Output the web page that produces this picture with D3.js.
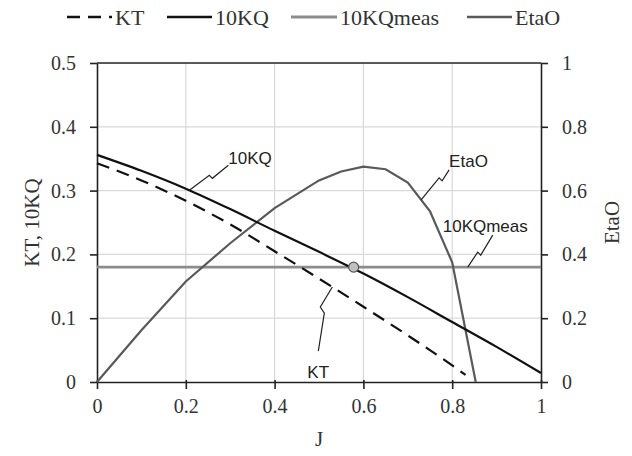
<!DOCTYPE html>
<html>
<head>
<meta charset="utf-8">
<script src="https://cdn.jsdelivr.net/npm/d3@7"></script>
<style>
    body { margin: 0; background: #fff; }
    svg { display: block; }
</style>
</head>
<body>
<svg id="chart" width="632" height="456"></svg>
<script>
// values
const jKT   = [0, 0.1, 0.2, 0.3, 0.4, 0.5, 0.6, 0.7, 0.8, 0.83]
const kt    = [0.343, 0.316, 0.284, 0.247, 0.205, 0.162, 0.118, 0.073, 0.026, 0.011]
const jKQ   = [0, 0.1, 0.2, 0.3, 0.4, 0.5, 0.6, 0.7, 0.8, 0.9, 1.0]
const kq10  = [0.356, 0.331, 0.303, 0.271, 0.237, 0.204, 0.17, 0.133, 0.094, 0.055, 0.014]
const kqMeas = 0.18
const jEta  = [0, 0.1, 0.2, 0.3, 0.4, 0.5, 0.55, 0.6, 0.65, 0.7, 0.75, 0.8, 0.853]
const eta   = [0, 0.162, 0.315, 0.435, 0.545, 0.632, 0.66, 0.675, 0.667, 0.625, 0.535, 0.375, 0]
const jMeas = 0.578

const xTicks  = [0, 0.2, 0.4, 0.6, 0.8, 1]
const yTicks  = [0, 0.1, 0.2, 0.3, 0.4, 0.5]
const y2Ticks = [0, 0.2, 0.4, 0.6, 0.8, 1]

const serif = '"Liberation Serif", "Times New Roman", serif'
const sans  = '"Liberation Sans", Arial, sans-serif'

const margin = { left: 97, right: 91, top: 63, bottom: 74 }
const width  = 632 - margin.left - margin.right
const height = 456 - margin.top - margin.bottom

const svg = d3.select('#chart')
const g = svg.append('g').attr('transform', `translate(${margin.left},${margin.top})`)

const x  = d3.scaleLinear().domain([0, 1]).range([0, width])
const y  = d3.scaleLinear().domain([0, 0.5]).range([height, 0])
const y2 = d3.scaleLinear().domain([0, 1]).range([height, 0])

// grid
g.selectAll('.vgrid').data(xTicks.slice(1, -1)).enter()
    .append('line')
    .attr('x1', d => x(d)).attr('x2', d => x(d))
    .attr('y1', 0).attr('y2', height)
    .attr('stroke', '#d9d9d9').attr('stroke-width', 1.2)
g.selectAll('.hgrid').data(yTicks.slice(1, -1)).enter()
    .append('line')
    .attr('x1', 0).attr('x2', width)
    .attr('y1', d => y(d)).attr('y2', d => y(d))
    .attr('stroke', '#d9d9d9').attr('stroke-width', 1.2)

// top border
g.append('line').attr('x1', 0).attr('x2', width).attr('y1', 0).attr('y2', 0)
    .attr('stroke', '#222').attr('stroke-width', 1.6)

const fmt = d => d3.format('')(d)

const xAxis = g.append('g').attr('transform', `translate(0,${height})`)
    .call(d3.axisBottom(x).tickValues(xTicks).tickFormat(fmt).tickSizeInner(7).tickSizeOuter(0).tickPadding(10))
const yAxis = g.append('g')
    .call(d3.axisLeft(y).tickValues(yTicks).tickFormat(fmt).tickSizeInner(7).tickSizeOuter(0).tickPadding(14))
const y2Axis = g.append('g').attr('transform', `translate(${width},0)`)
    .call(d3.axisRight(y2).tickValues(y2Ticks).tickFormat(fmt).tickSizeInner(7).tickSizeOuter(0).tickPadding(14))

;[xAxis, yAxis, y2Axis].forEach(a => {
    a.attr('font-family', serif).attr('font-size', 20)
    a.selectAll('path, line').attr('stroke', '#222').attr('stroke-width', 1.6)
    a.selectAll('text').attr('fill', '#333')
})
// x ticks cross the axis slightly
xAxis.selectAll('.tick line').attr('y1', -2)

// axis titles
svg.append('text')
    .attr('transform', `translate(32,${margin.top + height / 2}) rotate(-90)`)
    .attr('text-anchor', 'middle').attr('dominant-baseline', 'central')
    .attr('font-family', serif).attr('font-size', 21).attr('fill', '#333')
    .text('KT, 10KQ')
svg.append('text')
    .attr('transform', `translate(612,${margin.top + height / 2}) rotate(-90)`)
    .attr('text-anchor', 'middle').attr('dominant-baseline', 'central')
    .attr('font-family', serif).attr('font-size', 21).attr('fill', '#333')
    .text('EtaO')
svg.append('text')
    .attr('x', margin.left + width / 2).attr('y', 446)
    .attr('text-anchor', 'middle')
    .attr('font-family', serif).attr('font-size', 21).attr('fill', '#333')
    .text('J')

// series
const lineL = d3.line().x(d => x(d[0])).y(d => y(d[1]))
const smoothL = d3.line().x(d => x(d[0])).y(d => y(d[1])).curve(d3.curveMonotoneX)
const lineR = d3.line().x(d => x(d[0])).y(d => y2(d[1]))

g.append('path').datum([[0, kqMeas], [1, kqMeas]])
    .attr('d', lineL).attr('fill', 'none').attr('stroke', '#8c8c8c').attr('stroke-width', 2.6)

g.append('path').datum(d3.zip(jEta, eta))
    .attr('d', lineR).attr('fill', 'none').attr('stroke', '#595959').attr('stroke-width', 2.2)

g.append('path').datum(d3.zip(jKT, kt))
    .attr('d', smoothL).attr('fill', 'none').attr('stroke', '#111').attr('stroke-width', 2.2)
    .attr('stroke-dasharray', '13,8')

g.append('path').datum(d3.zip(jKQ, kq10))
    .attr('d', smoothL).attr('fill', 'none').attr('stroke', '#111').attr('stroke-width', 2.2)

g.append('circle').attr('cx', x(jMeas)).attr('cy', y(kqMeas)).attr('r', 5)
    .attr('fill', '#c0c0c0').attr('stroke', '#555').attr('stroke-width', 1.2)

// callout labels with zigzag leaders (offsets in px from anchor point)
const interp = (xs, ys, v) => {
    const i = Math.max(1, d3.bisectLeft(xs, v))
    const t = (v - xs[i - 1]) / (xs[i] - xs[i - 1])
    return ys[i - 1] + t * (ys[i] - ys[i - 1])
}
const callouts = [
    { text: '10KQ', px: x(0.208), py: y(interp(jKQ, kq10, 0.208)),
      pts: [[0, 0], [20, -15], [23, -12], [39, -25]], tx: 39, ty: -26 },
    { text: 'EtaO', px: x(0.730), py: y2(interp(jEta, eta, 0.730)),
      pts: [[0, 0], [18, -22], [21, -19], [28, -30]], tx: 28, ty: -33 },
    { text: '10KQmeas', px: x(0.835), py: y(kqMeas),
      pts: [[0, 0], [10, -15], [13, -12], [25, -32]], tx: -25, ty: -35 },
    { text: 'KT', px: x(0.530), py: y(interp(jKT, kt, 0.530)),
      pts: [[0, 0], [-12, 20], [-8, 26], [-14, 64]], tx: -25, ty: 91 }
]
callouts.forEach(c => {
    g.append('path')
        .attr('d', d3.line()(c.pts.map(p => [c.px + p[0], c.py + p[1]])))
        .attr('fill', 'none').attr('stroke', '#222').attr('stroke-width', 1.2)
    g.append('text')
        .attr('x', c.px + c.tx).attr('y', c.py + c.ty)
        .attr('font-family', sans).attr('font-size', 17).attr('fill', '#222')
        .text(c.text)
})

// legend
const legendItems = [
    { name: 'KT', x0: 67, x1: 112, color: '#111', dash: '13,8', w: 2.6 },
    { name: '10KQ', x0: 167, x1: 212, color: '#111', dash: null, w: 2.6 },
    { name: '10KQmeas', x0: 291, x1: 337, color: '#8c8c8c', dash: null, w: 3 },
    { name: 'EtaO', x0: 467, x1: 512, color: '#595959', dash: null, w: 2.6 }
]
const lg = svg.append('g')
legendItems.forEach(d => {
    lg.append('line').attr('x1', d.x0).attr('x2', d.x1).attr('y1', 17).attr('y2', 17)
        .attr('stroke', d.color).attr('stroke-width', d.w).attr('stroke-dasharray', d.dash)
    lg.append('text').attr('x', d.x1 + 3).attr('y', 25)
        .attr('font-family', serif).attr('font-size', 22).attr('fill', '#333')
        .text(d.name)
})
</script>
</body>
</html>
